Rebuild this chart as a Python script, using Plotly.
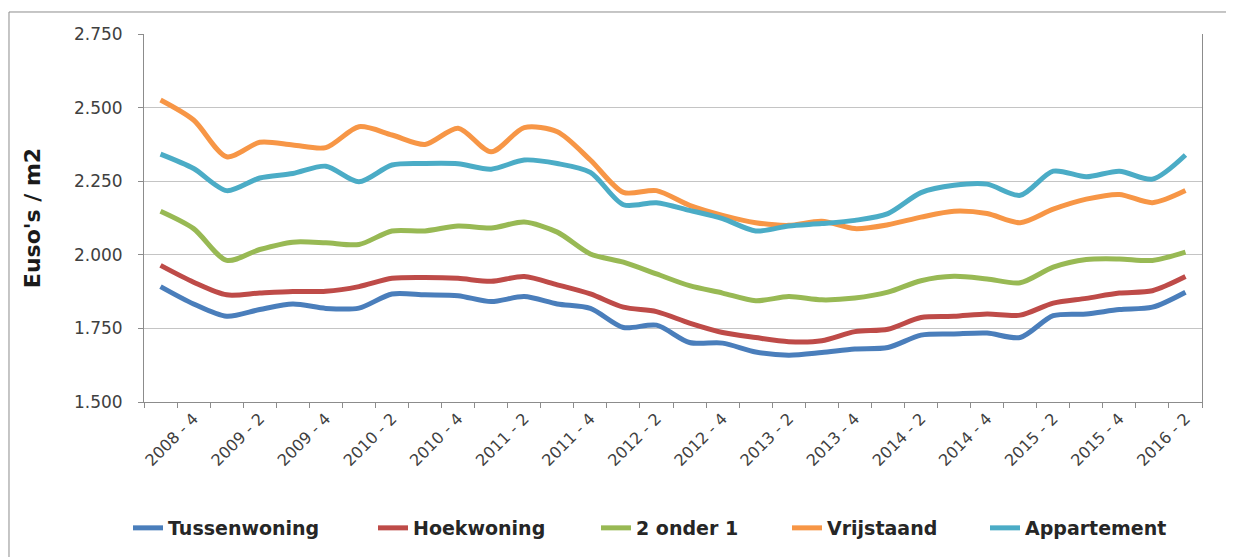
import plotly.graph_objects as go

quarters = [f"{y} - {q}" for y, q in
            [(2008, 3), (2008, 4)] +
            [(y, q) for y in range(2009, 2016) for q in (1, 2, 3, 4)] +
            [(2016, 1), (2016, 2)]]

tussenwoning = [1892, 1833, 1791, 1814, 1833, 1818, 1819, 1867, 1864, 1861, 1841, 1858,
                1833, 1818, 1753, 1761, 1702, 1700, 1670, 1659, 1668, 1680, 1685, 1727,
                1731, 1734, 1719, 1793, 1799, 1814, 1822, 1873]
hoekwoning = [1964, 1907, 1864, 1870, 1875, 1876, 1892, 1920, 1923, 1920, 1910, 1926,
              1898, 1867, 1822, 1807, 1768, 1736, 1719, 1705, 1708, 1739, 1747, 1787,
              1791, 1799, 1795, 1836, 1852, 1870, 1878, 1926]
twee_onder_een = [2148, 2089, 1981, 2018, 2043, 2041, 2035, 2081, 2081, 2098, 2091, 2111,
                  2077, 2003, 1975, 1935, 1895, 1870, 1844, 1858, 1847, 1853, 1873, 1912,
                  1927, 1918, 1905, 1958, 1984, 1986, 1981, 2009]
vrijstaand = [2526, 2458, 2333, 2382, 2373, 2364, 2435, 2407, 2375, 2430, 2350, 2432,
              2418, 2322, 2212, 2218, 2168, 2134, 2109, 2100, 2114, 2089, 2102, 2128,
              2148, 2140, 2109, 2155, 2189, 2205, 2177, 2218]
appartement = [2342, 2293, 2218, 2261, 2276, 2301, 2248, 2305, 2310, 2309, 2291, 2322,
               2310, 2280, 2170, 2177, 2151, 2123, 2081, 2098, 2106, 2117, 2140, 2211,
               2236, 2240, 2202, 2284, 2265, 2284, 2257, 2339]

series_names = ["Tussenwoning", "Hoekwoning", "2 onder 1", "Vrijstaand", "Appartement"]
series_values = [tussenwoning, hoekwoning, twee_onder_een, vrijstaand, appartement]
colors = ["#4A7EBB", "#BE4B48", "#98B954", "#F79646", "#4BACC6"]

tick_text = [q if i % 2 == 1 else "" for i, q in enumerate(quarters)]
y_ticks = [1500, 1750, 2000, 2250, 2500, 2750]

W, H = 1226, 549
legend_left_px = [120, 365, 588, 779, 977]
legend_ids = ["legend", "legend2", "legend3", "legend4", "legend5"]

fig = go.Figure()
for name, vals, col, lid in zip(series_names, series_values, colors, legend_ids):
    fig.add_trace(go.Scatter(x=quarters, y=vals, name=name, mode="lines", legend=lid,
                             line=dict(color=col, width=5, shape="spline", smoothing=0.8)))

legend_font = dict(family="DejaVu Sans", size=19, color="#262626", weight="bold")
legends = {}
for lid, px in zip(legend_ids, legend_left_px):
    legends[lid] = dict(orientation="h", xref="container", yref="container",
                        x=px / W, xanchor="left", y=1 - 520 / H, yanchor="middle",
                        font=legend_font, bgcolor="rgba(0,0,0,0)")

fig.update_layout(
    width=W, height=H,
    margin=dict(l=136, r=32, t=26, b=155, autoexpand=False),
    paper_bgcolor="white", plot_bgcolor="white",
    separators=",.",
    font=dict(family="DejaVu Sans", color="#404040"),
    showlegend=True,
    xaxis=dict(type="category", categoryorder="array", categoryarray=quarters,
               tickmode="array", tickvals=quarters, ticktext=tick_text,
               tickangle=-45, tickson="boundaries", ticks="outside", ticklen=5,
               tickcolor="#8c8c8c", showline=True, linecolor="#8c8c8c", linewidth=1,
               showgrid=False, tickfont=dict(size=16, color="#404040"),
               range=[-0.5, 31.5]),
    yaxis=dict(range=[1500, 2750], tickvals=y_ticks, tickformat=",d",
               ticks="outside", ticklen=5, tickcolor="#8c8c8c",
               showline=True, linecolor="#8c8c8c", linewidth=1, mirror=True,
               showgrid=True, gridcolor="#c4c4c4", gridwidth=1,
               tickfont=dict(size=17, color="#404040"), ticklabelstandoff=12,
               title=dict(text="Euso's / m2", standoff=27,
                          font=dict(size=22, color="#1a1a1a", weight="bold"))),
    shapes=[dict(type="rect", xref="paper", yref="paper",
                 x0=-0.1276, x1=1.2, y0=-0.6, y1=1.0598,
                 line=dict(color="#8c8c8c", width=1), layer="below")],
    **legends,
)

fig.write_html("out.html")
